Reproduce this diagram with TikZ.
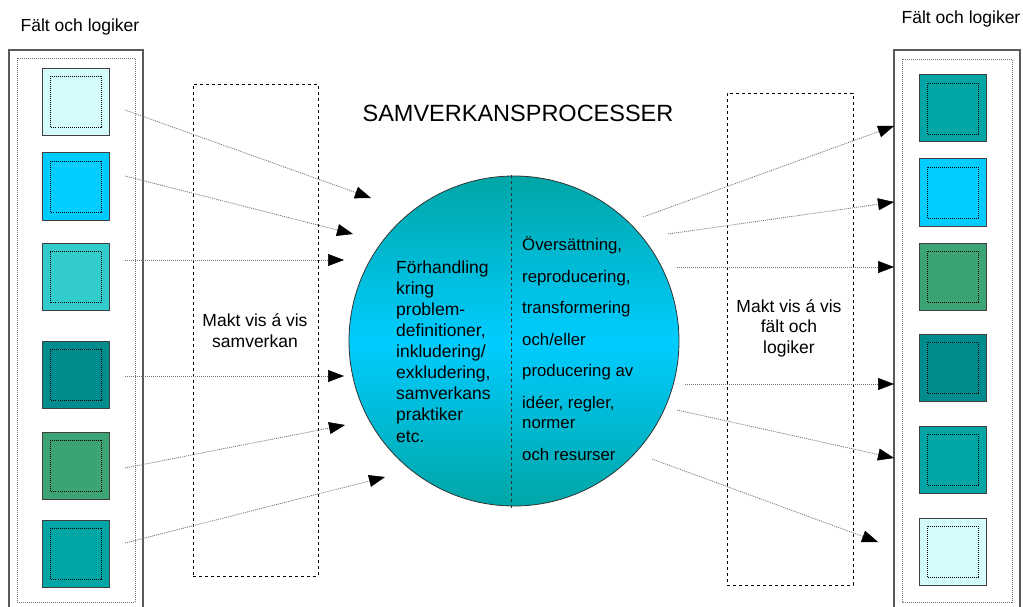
\documentclass[tikz,border=0pt]{standalone}
\usepackage{fontspec}
\setmainfont{Liberation Sans}
\usepackage{xcolor}
\usetikzlibrary{arrows.meta}
\definecolor{palecyan}{HTML}{D4FCFC}
\definecolor{skycyan}{HTML}{00CCFF}
\definecolor{turq}{HTML}{33CCCC}
\definecolor{darkteal}{HTML}{008C8C}
\definecolor{seagreen}{HTML}{3BA374}
\definecolor{midteal}{HTML}{00A6A6}

\begin{document}
\begin{tikzpicture}[x=1pt,y=-1pt,
		sq/.style={draw=black!75,line width=1pt,fill=#1,minimum size=67pt,inner sep=0pt,
			path picture={\draw[black,line width=0.7pt,dash pattern=on 1pt off 1pt]
				([shift={(8pt,8pt)}]path picture bounding box.south west) rectangle
				([shift={(-8pt,-8pt)}]path picture bounding box.north east);}},
		arr/.style={black!55,line width=0.8pt,dash pattern=on 1pt off 1pt,
			-{Triangle[length=16pt,width=12pt,color=black,fill=black,line width=0.5pt]}},
		power/.style={draw,dashed,line width=0.8pt,minimum width=125pt,inner sep=0pt},
		txt/.style={font=\fontsize{17.5}{20.5}\selectfont,inner sep=0pt}]
		\useasboundingbox (0,0) rectangle (1023,607);
		%
		% fields and logics, left and right
		\draw[black!65,line width=1.5pt] (9,615) -- (9,50) -- (143,50) -- (143,615);
		\draw[black!55,line width=0.7pt,dash pattern=on 1pt off 1pt] (17,58) rectangle (135,602);
		\draw[black!65,line width=1.5pt] (894,615) -- (894,50) -- (1020,50) -- (1020,615);
		\draw[black!55,line width=0.7pt,dash pattern=on 1pt off 1pt] (902,59) rectangle (1012,602);
		\node[txt,anchor=base] (lhead) at (80,32) {Fält och logiker};
		\node[txt,anchor=base] (rhead) at (961,24) {Fält och logiker};
		%
		\node[sq=palecyan] (l1) at (76,102) {};
		\node[sq=skycyan] (l2) at (76,186.5) {};
		\node[sq=turq] (l3) at (76,277) {};
		\node[sq=darkteal] (l4) at (76,374.5) {};
		\node[sq=seagreen] (l5) at (76,465.5) {};
		\node[sq=midteal] (l6) at (76,553.5) {};
		%
		\node[sq=midteal] (r1) at (952.5,108.5) {};
		\node[sq=skycyan] (r2) at (952.5,192.5) {};
		\node[sq=seagreen] (r3) at (952.5,276.5) {};
		\node[sq=darkteal] (r4) at (952.5,367.5) {};
		\node[sq=midteal] (r5) at (952.5,459.5) {};
		\node[sq=palecyan] (r6) at (952.5,551.5) {};
		%
		% power zones
		\node[power,minimum height=492pt] (lpow) at (255.5,330) {};
		\node[power,minimum width=126pt,minimum height=492pt] (rpow) at (790,339) {};
		\node[txt,anchor=base,align=center] (lmakt) at (255,347) {Makt vis á vis\\samverkan};
		\node[txt,anchor=base,align=center] (rmakt) at (789,353) {Makt vis á vis\\fält och\\logiker};
		%
		% the process
		\node[txt,font=\fontsize{23.5}{28}\selectfont,anchor=base] (title) at (518,122) {SAMVERKANSPROCESSER};
		\node[circle,draw=black!80,line width=0.8pt,minimum size=330pt,inner sep=0pt,
			top color=midteal,bottom color=midteal,middle color=skycyan] (proc) at (514,341) {};
		\draw[black!80,dashed,line width=0.8pt] (511,175) -- (511,508);
		\node[txt,anchor=base west,align=left,font=\fontsize{17.5}{21.1}\selectfont] (neg) at (396,442)
		{Förhandling\\kring\\problem-\\definitioner,\\inkludering/\\exkludering,\\samverkans\\praktiker\\etc.};
		\node[txt,anchor=base west,align=left,font=\fontsize{16.8}{20.5}\selectfont] (trans) at (522,460)
		{Översättning,\\[11pt]reproducering,\\[11pt]transformering\\[11pt]och/eller\\[11pt]producering av\\[11pt]idéer, regler,\\normer\\[11pt]och resurser};
		%
		\coordinate (a1) at (125,110);  \coordinate (b1) at (371,198);
		\coordinate (a2) at (125,176);  \coordinate (b2) at (353,234);
		\coordinate (a3) at (125,260);  \coordinate (b3) at (344,260);
		\coordinate (a4) at (125,376);  \coordinate (b4) at (344,376);
		\coordinate (a5) at (125,468);  \coordinate (b5) at (345,425);
		\coordinate (a6) at (125,543);  \coordinate (b6) at (385,477);
		\coordinate (c1) at (643,217);  \coordinate (d1) at (894,126);
		\coordinate (c2) at (668,234);  \coordinate (d2) at (894,202);
		\coordinate (c3) at (677,267);  \coordinate (d3) at (894,267);
		\coordinate (c4) at (685,384);  \coordinate (d4) at (894,384);
		\coordinate (c5) at (677,410);  \coordinate (d5) at (894,458);
		\coordinate (c6) at (652,459);  \coordinate (d6) at (878,542);
		%
		\path[arr]
		(a1) edge (b1)
		(a2) edge (b2)
		(a3) edge (b3)
		(a4) edge (b4)
		(a5) edge (b5)
		(a6) edge (b6)
		(c1) edge (d1)
		(c2) edge (d2)
		(c3) edge (d3)
		(c4) edge (d4)
		(c5) edge (d5)
		(c6) edge (d6);
		\end{tikzpicture}
\end{document}
